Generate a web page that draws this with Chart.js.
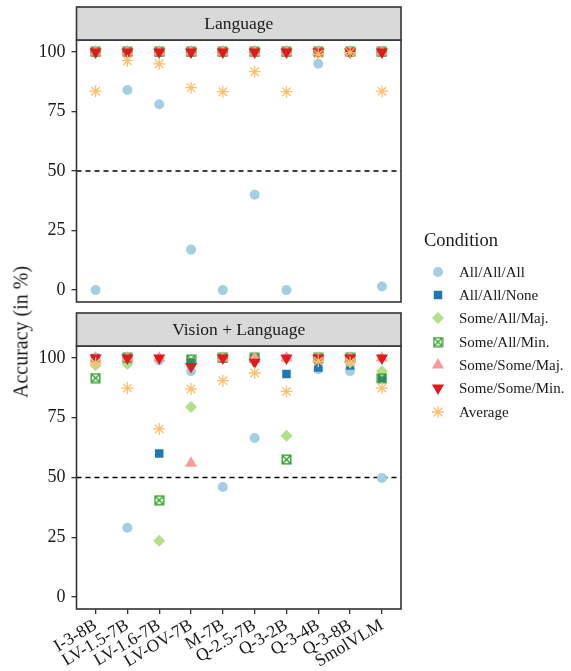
<!DOCTYPE html>
<html>
<head>
<meta charset="utf-8">
<script src="https://cdn.jsdelivr.net/npm/chart.js@4/dist/chart.umd.min.js"></script>
<style>
  body { margin:0; background:#fff; }
  #wrap { position:relative; width:571px; height:671px; font-family:'Liberation Serif','Times New Roman',serif; color:#1a1a1a; }
  canvas { position:absolute; left:0; }
  #ytitle { position:absolute; left:21px; top:332px; transform:translate(-50%,-50%) rotate(-90deg); font-size:20px; white-space:nowrap; }
  .lg-title { position:absolute; left:424px; top:240px; transform:translateY(-50%); font-size:18.5px; white-space:nowrap; }
  .lg-item { position:absolute; left:459px; transform:translateY(-50%); font-size:15px; white-space:nowrap; }
  .lg-sym { position:absolute; width:20px; height:20px; }
</style>
</head>
<body>
<div id="wrap">
  <canvas id="c1" width="571" height="312" style="top:0"></canvas>
  <canvas id="c2" width="571" height="359" style="top:312px"></canvas>
  <div id="ytitle">Accuracy (in %)</div>
  <div class="lg-title">Condition</div>
</div>
<script>
// ---------- DATA ----------
const categories = ['I-3-8B','LV-1.5-7B','LV-1.6-7B','LV-OV-7B','M-7B','Q-2.5-7B','Q-3-2B','Q-3-4B','Q-3-8B','SmolVLM'];
const conditions = ['All/All/All','All/All/None','Some/All/Maj.','Some/All/Min.','Some/Some/Maj.','Some/Some/Min.','Average'];
const panelTitles = ['Language','Vision + Language'];
const yTicks = [0, 25, 50, 75, 100];
const referenceLine = 50;

// Language panel
const langAllAllAll   = [0, 84, 78, 17, 0, 40, 0, 95, 100, 1.5];
const langAllAllNone  = [100, 100, 100, 100, 100, 100, 100, 100, 100, 100];
const langSomeAllMaj  = [100, 100, 100, 100, 100, 100, 100, 100, 100, 100];
const langSomeAllMin  = [100, 100, 100, 100, 100, 100, 100, 100, 100, 100];
const langSomeSomeMaj = [100, 100, 100, 100, 100, 100, 100, 100, 100, 100];
const langSomeSomeMin = [100, 100, 100, 100, 100, 100, 100, 100, 100, 100];
const langAverage     = [83.5, 96.3, 95, 85, 83.3, 91.7, 83.3, 99, 99.7, 83.5];

// Vision + Language panel
const vlAllAllAll   = [99, 29, 99, 94.5, 46, 66.5, 100, 95.3, 94.5, 49.8];
const vlAllAllNone  = [100, 100, 60, 98, 100, 100, 93.3, 96, 96.8, 91.5];
const vlSomeAllMaj  = [97, 97.5, 23.5, 79.5, 100, 100, 67.5, 100, 98.2, 94.4];
const vlSomeAllMin  = [91.6, 100, 40.5, 99.3, 100, 100, 57.5, 100, 100, 91.5];
const vlSomeSomeMaj = [100, 100, 100, 56, 100, 100, 100, 100, 100, 100];
const vlSomeSomeMin = [100, 100, 100, 96.4, 100, 98.2, 100, 100, 100, 100];
const vlAverage     = [97.9, 87.4, 70.3, 87, 90.5, 93.7, 86, 98.6, 98.2, 87.4];

const langSeries = [langAllAllAll, langAllAllNone, langSomeAllMaj, langSomeAllMin, langSomeSomeMaj, langSomeSomeMin, langAverage];
const vlSeries   = [vlAllAllAll, vlAllAllNone, vlSomeAllMaj, vlSomeAllMin, vlSomeSomeMaj, vlSomeSomeMin, vlAverage];

// ---------- STYLE ----------
const FONT = "'Liberation Serif','Times New Roman',serif";
function makeSquareCross(color) {
  const c = document.createElement('canvas');
  c.width = 11; c.height = 11;
  const x = c.getContext('2d');
  x.strokeStyle = color; x.lineWidth = 1.4;
  x.strokeRect(1.2, 1.2, 8.6, 8.6);
  x.beginPath();
  x.moveTo(1.2, 1.2); x.lineTo(9.8, 9.8);
  x.moveTo(9.8, 1.2); x.lineTo(1.2, 9.8);
  x.stroke();
  return c;
}
const styles = [
  { pointStyle:'circle',   radius:5,   rotation:0,   bg:'#a6cee3', border:'#a6cee3', bw:0 },
  { pointStyle:'rect',     radius:6,   rotation:0,   bg:'#1f78b4', border:'#1f78b4', bw:0 },
  { pointStyle:'rectRot',  radius:6,   rotation:0,   bg:'#b2df8a', border:'#b2df8a', bw:0 },
  { pointStyle:makeSquareCross('#33a02c'), radius:5, rotation:0, bg:'#33a02c', border:'#33a02c', bw:0 },
  { pointStyle:'triangle', radius:7,   rotation:0,   bg:'#fb9a99', border:'#fb9a99', bw:0 },
  { pointStyle:'triangle', radius:7,   rotation:180, bg:'#e31a1c', border:'#e31a1c', bw:0 },
  { pointStyle:'star',     radius:6,   rotation:0,   bg:'#fdbf6f', border:'#fdbf6f', bw:1.3 }
];

const panelPlugin = {
  id: 'panel',
  beforeDatasetsDraw(chart) {
    const { ctx, chartArea: a, scales: { y } } = chart;
    const py = y.getPixelForValue(referenceLine);
    ctx.save();
    ctx.strokeStyle = '#000'; ctx.lineWidth = 1.3;
    ctx.setLineDash([5, 4]);
    ctx.beginPath(); ctx.moveTo(a.left, py); ctx.lineTo(a.right, py); ctx.stroke();
    ctx.restore();
  },
  afterDraw(chart, args, opts) {
    const { ctx, chartArea: a } = chart;
    ctx.save();
    ctx.strokeStyle = '#333'; ctx.lineWidth = 1.6;
    ctx.strokeRect(a.left, a.top, a.right - a.left, a.bottom - a.top);
    const sh = 33;
    ctx.fillStyle = '#d9d9d9';
    ctx.fillRect(a.left, a.top - sh, a.right - a.left, sh);
    ctx.strokeRect(a.left, a.top - sh, a.right - a.left, sh);
    ctx.fillStyle = '#1a1a1a';
    ctx.font = '17.5px ' + FONT;
    ctx.textAlign = 'center'; ctx.textBaseline = 'middle';
    ctx.fillText(opts.title, (a.left + a.right) / 2, a.top - sh / 2 + 1);
    ctx.restore();
  }
};

function makeChart(id, series, title, showX, padTop, padBottom) {
  return new Chart(document.getElementById(id), {
    type: 'scatter',
    data: {
      datasets: series.map((arr, i) => ({
        label: conditions[i],
        data: arr.map((v, j) => ({ x: j, y: v })),
        pointStyle: styles[i].pointStyle,
        pointRadius: styles[i].radius,
        pointRotation: styles[i].rotation,
        backgroundColor: styles[i].bg,
        borderColor: styles[i].border,
        borderWidth: styles[i].bw,
        order: series.length - 1 - i
      }))
    },
    options: {
      responsive: false, animation: false, events: [],
      layout: { padding: { left: 0, right: 170, top: padTop, bottom: padBottom } },
      plugins: { legend: { display: false }, tooltip: { enabled: false }, panel: { title } },
      scales: {
        x: {
          type: 'linear', min: -0.6, max: 9.6, display: showX,
          afterBuildTicks: s => { s.ticks = categories.map((_, i) => ({ value: i })); },
          afterFit: s => { s.height = showX ? 62 : 0; s.paddingLeft = 0; s.paddingRight = 0; },
          ticks: { autoSkip: false, maxRotation: 31, minRotation: 31, padding: 1,
                   font: { family: FONT, size: 17.5 }, color: '#1a1a1a',
                   callback: v => categories[v] },
          grid: { drawOnChartArea: false, drawTicks: true, tickLength: 5, color: '#333', lineWidth: 1.3 },
          border: { display: false }
        },
        y: {
          min: -5, max: 105,
          afterBuildTicks: s => { s.ticks = yTicks.map(v => ({ value: v })); },
          afterFit: s => { s.width = 76.5; s.paddingTop = 0; s.paddingBottom = 0; },
          ticks: { padding: 6, font: { family: FONT, size: 18 }, color: '#1a1a1a' },
          grid: { drawOnChartArea: false, drawTicks: true, tickLength: 5, color: '#333', lineWidth: 1.3 },
          border: { display: false }
        }
      }
    },
    plugins: [panelPlugin]
  });
}

makeChart('c1', langSeries, panelTitles[0], false, 40, 10);
makeChart('c2', vlSeries, panelTitles[1], true, 34, 0);

// ---------- LEGEND ----------
const wrap = document.getElementById('wrap');
conditions.forEach((name, i) => {
  const cy = 271.7 + i * 23.3;
  const c = document.createElement('canvas');
  c.width = 20; c.height = 20; c.className = 'lg-sym';
  c.style.left = (438 - 10) + 'px'; c.style.top = (cy - 10) + 'px';
  wrap.appendChild(c);
  const ctx = c.getContext('2d');
  ctx.fillStyle = styles[i].bg; ctx.strokeStyle = styles[i].border; ctx.lineWidth = styles[i].bw;
  Chart.helpers.drawPoint(ctx, { pointStyle: styles[i].pointStyle, radius: styles[i].radius, rotation: styles[i].rotation, borderWidth: styles[i].bw }, 10, 10);
  const t = document.createElement('div');
  t.className = 'lg-item'; t.style.top = cy + 'px'; t.textContent = name;
  wrap.appendChild(t);
});
</script>
</body>
</html>
